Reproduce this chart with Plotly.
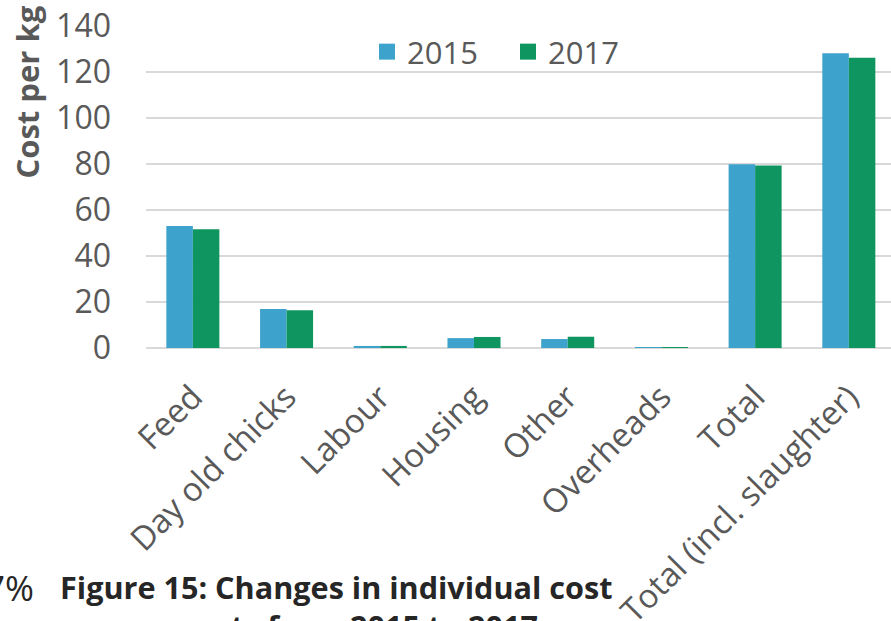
import plotly.graph_objects as go

# Cost components (cost per kg)
categories = ["Feed", "Day old chicks", "Labour", "Housing", "Other",
              "Overheads", "Total", "Total (incl. slaughter)"]
cost_2015 = [53.0, 17.0, 0.9, 4.3, 3.9, 0.3, 79.9, 128.1]
cost_2017 = [51.6, 16.4, 0.9, 4.8, 4.9, 0.3, 79.3, 126.2]
series_names = ["2015", "2017"]
y_ticks = [0, 20, 40, 60, 80, 100, 120, 140]

BLUE = "rgb(62,163,204)"
GREEN = "rgb(15,150,96)"
GRID = "#d9d9d9"
LABEL = "#595959"
FONT = "Open Sans"

W, H = 891, 621
L, R, T, B = 146, 0, 26, 273
PW, PH = W - L - R, H - T - B


def px_x(px):
    return (px - L) / PW


def px_y(py):
    return (H - B - py) / PH


fig = go.Figure()
for name, vals, col in zip(series_names, [cost_2015, cost_2017], [BLUE, GREEN]):
    fig.add_trace(go.Bar(x=categories, y=vals, name=name, marker_color=col,
                         marker_line_width=0, showlegend=False))
    # legend entry with a larger square swatch
    fig.add_trace(go.Scatter(x=[None], y=[None], mode="markers", name=name,
                             marker=dict(symbol="square", size=20, color=col)))

fig.update_layout(
    width=W, height=H,
    margin=dict(l=L, r=R, t=T, b=B, autoexpand=False),
    paper_bgcolor="white", plot_bgcolor="white",
    barmode="group", bargap=0.434, bargroupgap=0,
    font=dict(family=FONT, color=LABEL, size=32),
    legend=dict(orientation="h", x=px_x(367), xanchor="left",
                y=px_y(52), yanchor="middle", entrywidth=96,
                font=dict(family=FONT, size=31, color=LABEL),
                bgcolor="rgba(0,0,0,0)", itemsizing="trace"),
    showlegend=True,
)

fig.update_xaxes(range=[-0.5, 7.45], tickangle=-45, showgrid=False,
                 showline=False, zeroline=False, ticks="",
                 tickfont=dict(family=FONT, size=33, color=LABEL),
                 ticklabelstandoff=22, automargin=False)
fig.update_yaxes(range=[0, 140], tickvals=y_ticks, showgrid=True,
                 gridcolor=GRID, gridwidth=1.5, zeroline=True,
                 zerolinecolor=GRID, zerolinewidth=1.5, showline=False,
                 ticks="", tickfont=dict(family=FONT, size=32, color=LABEL),
                 ticklabelstandoff=34, automargin=False)

# y-axis title
fig.add_annotation(text="<b>Cost per kg</b>", textangle=-90,
                   xref="paper", yref="paper", x=px_x(26), y=px_y(92.5),
                   xanchor="center", yanchor="middle", showarrow=False,
                   font=dict(family=FONT, size=31, color=LABEL))

# caption below the chart
fig.add_annotation(text="<b>Figure 15: Changes in individual cost</b>",
                   xref="paper", yref="paper", x=px_x(58), y=px_y(587),
                   xanchor="left", yanchor="middle", showarrow=False,
                   font=dict(family=FONT, size=30.6, color="#262626"))
fig.add_annotation(text="<b>costs from 2015 to 2017</b>",
                   xref="paper", yref="paper", x=px_x(540), y=px_y(626),
                   xanchor="right", yanchor="middle", showarrow=False,
                   font=dict(family=FONT, size=30.6, color="#262626"))
fig.add_annotation(text="7%",
                   xref="paper", yref="paper", x=px_x(36), y=px_y(587),
                   xanchor="right", yanchor="middle", showarrow=False,
                   font=dict(family=FONT, size=35, color="#262626"))

fig.write_html("out.html")
